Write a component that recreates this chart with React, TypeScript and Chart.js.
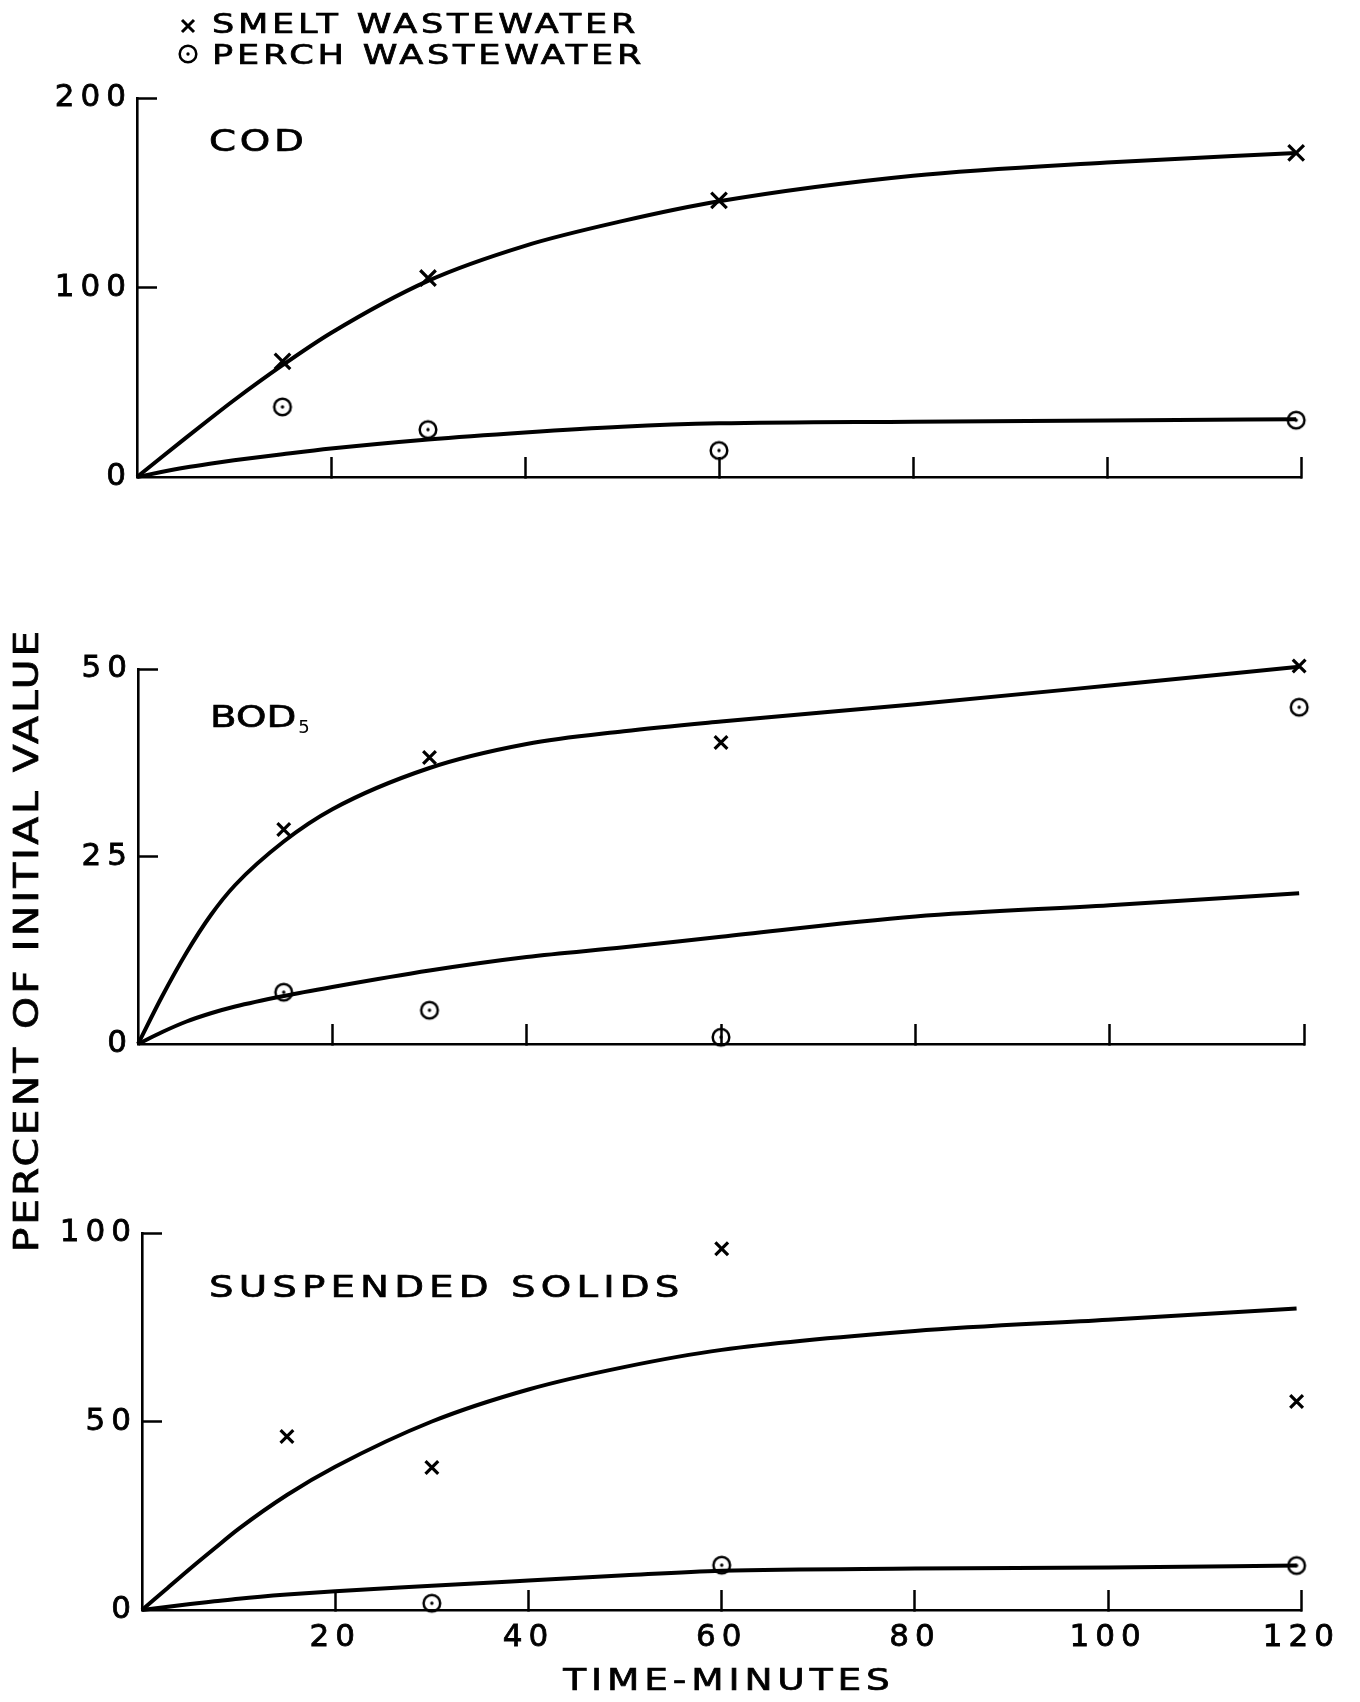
import React, { useEffect, useRef } from 'react';
import { Chart, registerables } from 'chart.js';

Chart.register(...registerables);

const PAGE_W = 1360;
const PAGE_H = 1702;
const FONT = '"DejaVu Sans", "Liberation Sans", sans-serif';
const INK = '#000';

// ---------- data ----------
const seriesLabels = ['SMELT WASTEWATER', 'PERCH WASTEWATER'];
const xTicks = [0, 20, 40, 60, 80, 100, 120];
const xAxisTitle = 'TIME-MINUTES';
const yAxisTitle = 'PERCENT OF INITIAL VALUE';

// sampling times of the measured points (minutes)
const sampleTimes = [15, 30, 60, 119.5];
// times at which the drawn smooth curves were read
const curveTimes = [0, 2.5, 5, 7.5, 10, 15, 20, 30, 40, 50, 60, 80, 100, 119.5];

// COD panel
const codTitle = 'COD';
const codYTicks = [0, 100, 200];
const codSmeltPoints = [61, 105, 146, 171];
const codPerchPoints = [37, 25, 14, 30];
const codSmeltCurve = [0, 10.3, 20.5, 30.6, 40.5, 59, 76, 103.5, 122, 135, 145.5, 159, 166, 171];
const codPerchCurve = [0, 2.6, 5, 7, 8.8, 12, 15, 19.8, 23.5, 26.5, 28.3, 29.2, 29.8, 30.5];

// BOD5 panel
const bodTitle = 'BOD';
const bodSubscript = '5';
const bodYTicks = [0, 25, 50];
const bodSmeltPoints = [28.6, 38.2, 40.2, 50.4];
const bodPerchPoints = [6.9, 4.5, 0.9, 44.9];
const bodSmeltCurve = [0, 6.4, 12.2, 17.2, 21.2, 27, 31.3, 36.8, 40, 41.7, 43, 45.3, 47.8, 50.3];
const bodPerchCurve = [0, 1.6, 3.0, 4.1, 5.0, 6.4, 7.6, 9.8, 11.6, 12.9, 14.3, 17, 18.5, 20.1];

// Suspended solids panel
const ssTitle = 'SUSPENDED SOLIDS';
const ssYTicks = [0, 50, 100];
const ssSmeltPoints = [46, 37.8, 95.8, 55.3];
const ssPerchPoints = [null, 1.8, 11.9, 11.8];
const ssSmeltCurve = [0, 5.5, 11, 16.3, 21.5, 30.5, 38, 50, 58.5, 64.5, 69, 74, 77, 80];
const ssPerchCurve = [0, 0.8, 1.6, 2.3, 3.0, 4.1, 5.0, 6.4, 7.8, 9.2, 10.4, 11, 11.3, 11.8];

// ---------- layout / style ----------
const AXIS_W = 100;
const AXIS_H = 60;

type Panel = {
  title: string;
  sub: string;
  yTicks: number[];
  smeltPts: (number | null)[];
  perchPts: (number | null)[];
  smeltCurve: number[];
  perchCurve: number[];
  box: { l: number; r: number; t: number; b: number };
  titleX: number;
  titleY: number;
  titleLs: number;
  showX: boolean;
  crossR: number;
};

const panels: Panel[] = [
  {
    title: codTitle, sub: '', yTicks: codYTicks,
    smeltPts: codSmeltPoints, perchPts: codPerchPoints,
    smeltCurve: codSmeltCurve, perchCurve: codPerchCurve,
    box: { l: 137, r: 1301, t: 98, b: 477 },
    titleX: 209, titleY: 151, titleLs: 3, showX: false, crossR: 11,
  },
  {
    title: bodTitle, sub: bodSubscript, yTicks: bodYTicks,
    smeltPts: bodSmeltPoints, perchPts: bodPerchPoints,
    smeltCurve: bodSmeltCurve, perchCurve: bodPerchCurve,
    box: { l: 138, r: 1304, t: 669, b: 1044 },
    titleX: 210, titleY: 727, titleLs: 0, showX: false, crossR: 9,
  },
  {
    title: ssTitle, sub: '', yTicks: ssYTicks,
    smeltPts: ssSmeltPoints, perchPts: ssPerchPoints,
    smeltCurve: ssSmeltCurve, perchCurve: ssPerchCurve,
    box: { l: 142, r: 1306, t: 1233, b: 1610 },
    titleX: 209, titleY: 1297, titleLs: 4.1, showX: true, crossR: 9,
  },
];

function makeCircleDot(): HTMLCanvasElement {
  const c = document.createElement('canvas');
  c.width = 24;
  c.height = 24;
  const g = c.getContext('2d')!;
  g.strokeStyle = INK;
  g.fillStyle = INK;
  g.lineWidth = 2.5;
  g.beginPath();
  g.arc(12, 12, 8.3, 0, Math.PI * 2);
  g.stroke();
  g.beginPath();
  g.arc(12, 12, 1.7, 0, Math.PI * 2);
  g.fill();
  return c;
}

function toXY(times: number[], vals: (number | null)[]) {
  const out: { x: number; y: number }[] = [];
  times.forEach((t, i) => {
    const v = vals[i];
    if (v !== null && v !== undefined) out.push({ x: t, y: v });
  });
  return out;
}

// draws horizontally widened, slightly emboldened text; returns drawn width
function drawWide(
  ctx: any, text: string, x: number, y: number, size: number,
  sx: number, ls: number, align: CanvasTextAlign = 'left'
): number {
  ctx.save();
  ctx.font = `${size}px ${FONT}`;
  ctx.letterSpacing = ls + 'px';
  ctx.textAlign = align;
  ctx.textBaseline = 'alphabetic';
  ctx.fillStyle = INK;
  ctx.strokeStyle = INK;
  ctx.translate(x, y);
  ctx.scale(sx, 1);
  ctx.fillText(text, 0, 0);
  ctx.lineWidth = 0.7;
  ctx.strokeText(text, 0, 0);
  ctx.letterSpacing = '0px';
  const w = ctx.measureText(text).width * sx + ls * (text.length - 1) * sx;
  ctx.restore();
  return w;
}

function buildChart(canvas: HTMLCanvasElement, p: Panel, idx: number, circleImg: HTMLCanvasElement) {
  const yMax = p.yTicks[p.yTicks.length - 1];
  const tickFont = { family: FONT, size: 31 };
  const hideZero = (c: any) => (c.tick && c.tick.value === 0 ? 'rgba(0,0,0,0)' : INK);

  const textPlugin = {
    id: 'panelText' + idx,
    beforeDraw(chart: any) {
      chart.ctx.letterSpacing = '6px';
    },
    afterDraw(chart: any) {
      const ctx = chart.ctx as any;
      ctx.save();
      ctx.fillStyle = INK;
      ctx.strokeStyle = INK;
      const w = drawWide(ctx, p.title, p.titleX, p.titleY, 31, 1.25, p.titleLs);
      if (p.sub) {
        ctx.font = `18px ${FONT}`;
        ctx.letterSpacing = '0px';
        ctx.textAlign = 'left';
        ctx.textBaseline = 'alphabetic';
        ctx.fillText(p.sub, p.titleX + w + 2, p.titleY + 6);
      }
      if (idx === 0) {
        // legend
        drawWide(ctx, seriesLabels[0], 212, 33, 27, 1.3, 2.9);
        drawWide(ctx, seriesLabels[1], 212, 64, 27, 1.3, 2.9);
        ctx.lineWidth = 3;
        ctx.lineCap = 'butt';
        ctx.beginPath();
        ctx.moveTo(182, 20);
        ctx.lineTo(194, 32);
        ctx.moveTo(194, 20);
        ctx.lineTo(182, 32);
        ctx.stroke();
        ctx.drawImage(circleImg, 188 - 12, 54 - 12);
      }
      if (idx === 1) {
        ctx.save();
        ctx.translate(38, 940);
        ctx.rotate(-Math.PI / 2);
        drawWide(ctx, yAxisTitle, 0, 0, 34, 1.2, 2.5, 'center');
        ctx.restore();
      }
      if (idx === 2) {
        drawWide(ctx, xAxisTitle, 729, 1690, 30, 1.25, 3.9, 'center');
      }
      ctx.restore();
    },
  };

  return new Chart(canvas, {
    type: 'scatter',
    data: {
      datasets: [
        {
          label: seriesLabels[0],
          data: toXY(curveTimes, p.smeltCurve),
          showLine: true,
          pointRadius: 0,
          borderColor: INK,
          borderWidth: 4,
          cubicInterpolationMode: 'monotone',
          clip: false,
        } as any,
        {
          label: seriesLabels[1],
          data: toXY(curveTimes, p.perchCurve),
          showLine: true,
          pointRadius: 0,
          borderColor: INK,
          borderWidth: 4,
          cubicInterpolationMode: 'monotone',
          clip: false,
        } as any,
        {
          label: seriesLabels[0],
          data: toXY(sampleTimes, p.smeltPts),
          showLine: false,
          pointStyle: 'crossRot',
          pointRadius: p.crossR,
          pointBorderWidth: 3.2,
          pointBorderColor: INK,
          pointBackgroundColor: INK,
          clip: false,
        } as any,
        {
          label: seriesLabels[1],
          data: toXY(sampleTimes, p.perchPts),
          showLine: false,
          pointStyle: circleImg,
          pointRadius: 9,
          clip: false,
        } as any,
      ],
    },
    options: {
      responsive: false,
      animation: false,
      devicePixelRatio: 1,
      events: [],
      layout: {
        autoPadding: false,
        padding: {
          left: p.box.l - AXIS_W,
          right: PAGE_W - p.box.r,
          top: p.box.t,
          bottom: PAGE_H - p.box.b - AXIS_H,
        },
      },
      plugins: {
        legend: { display: false },
        tooltip: { enabled: false },
        title: { display: false },
      },
      scales: {
        x: {
          type: 'linear',
          min: 0,
          max: 120,
          afterBuildTicks: (s: any) => {
            s.ticks = xTicks.map((v) => ({ value: v }));
          },
          afterFit: (s: any) => {
            s.height = AXIS_H;
          },
          ticks: {
            display: p.showX,
            font: tickFont,
            color: INK,
            textStrokeColor: INK,
            textStrokeWidth: 0.8,
            padding: 29,
            autoSkip: false,
            maxRotation: 0,
            callback: (v: any) => (v === 0 ? '' : String(v)),
          },
          grid: {
            drawOnChartArea: false,
            drawTicks: true,
            tickLength: -20,
            tickWidth: 2.5,
            tickColor: hideZero,
          },
          border: { display: true, color: INK, width: 2.6 },
        },
        y: {
          type: 'linear',
          min: 0,
          max: yMax,
          afterBuildTicks: (s: any) => {
            s.ticks = p.yTicks.map((v) => ({ value: v }));
          },
          afterFit: (s: any) => {
            s.width = AXIS_W;
          },
          ticks: {
            font: tickFont,
            color: INK,
            textStrokeColor: INK,
            textStrokeWidth: 0.8,
            padding: 25,
            autoSkip: false,
            callback: (v: any) => String(v),
          },
          grid: {
            drawOnChartArea: false,
            drawTicks: true,
            tickLength: -20,
            tickWidth: 2.5,
            tickColor: hideZero,
          },
          border: { display: true, color: INK, width: 2.6 },
        },
      },
    } as any,
    plugins: [textPlugin],
  });
}

export default function App() {
  const r0 = useRef<HTMLCanvasElement>(null);
  const r1 = useRef<HTMLCanvasElement>(null);
  const r2 = useRef<HTMLCanvasElement>(null);

  useEffect(() => {
    const circleImg = makeCircleDot();
    const refs = [r0, r1, r2];
    const charts = panels.map((p, i) => buildChart(refs[i].current!, p, i, circleImg));
    return () => charts.forEach((c) => c.destroy());
  }, []);

  const cs: React.CSSProperties = {
    position: 'absolute',
    left: 0,
    top: 0,
    width: PAGE_W,
    height: PAGE_H,
  };

  return (
    <div
      style={{
        position: 'absolute',
        left: 0,
        top: 0,
        width: PAGE_W,
        height: PAGE_H,
        background: '#fff',
        overflow: 'hidden',
      }}
    >
      <canvas ref={r0} width={PAGE_W} height={PAGE_H} style={cs} />
      <canvas ref={r1} width={PAGE_W} height={PAGE_H} style={cs} />
      <canvas ref={r2} width={PAGE_W} height={PAGE_H} style={cs} />
    </div>
  );
}
